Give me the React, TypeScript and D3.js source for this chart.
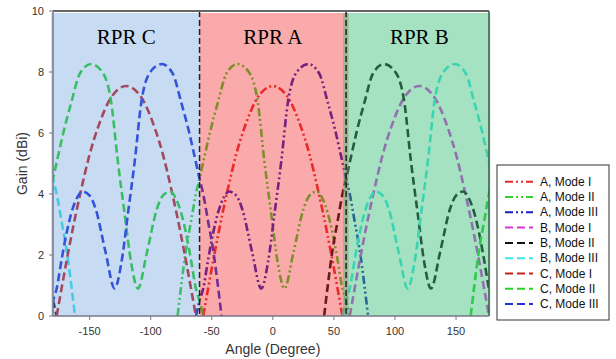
import React from 'react';
import * as d3 from 'd3';

type Pt = [number, number] | null;

// axis ticks
const xTicks = [-150, -100, -50, 0, 50, 100, 150];
const yTicks = [0, 2, 4, 6, 8, 10];

// RPR regions (angle bounds) and their labels
const regionNames = ['RPR C', 'RPR A', 'RPR B'];
const regionBounds: [number, number][] = [[-181.5, -60], [-60, 62], [57.5, 178]];
const regionCenters = [-120, 0, 120];
const dividers = [-60, 60];

// gain patterns, [angle, dBi]; null breaks a line (wrap at ±180)
const aModeI: Pt[] = [[-57, 0], [-53, 0.9], [-47.5, 2.1], [-41, 3.4], [-37, 4.13], [-30, 5.3], [-23, 6.2], [-12, 7.19], [0, 7.54], [12, 7.19], [23, 6.2], [30, 5.3], [37, 4.13], [41, 3.4], [47.5, 2.1], [53, 0.9], [57, 0]];
const aModeII: Pt[] = [[-78, 0], [-75, 1.0], [-71, 2.2], [-67, 3.1], [-63, 4.0], [-60, 4.5], [-55, 5.4], [-51, 6.1], [-45, 7.0], [-38, 7.95], [-29, 8.26], [-19, 7.96], [-12.3, 7.0], [-7, 5.1], [-1.5, 3.4], [4, 1.75], [9.5, 0.9], [17, 2.1], [25, 3.5], [30, 3.95], [36, 4.08], [40, 3.9], [45, 3.37], [49, 2.7], [53, 1.84], [57, 0.9], [60, 0.5], [63, 0]];
const aModeIII: Pt[] = [[-63, 0], [-60, 0.5], [-57, 0.9], [-53, 1.84], [-49, 2.7], [-45, 3.37], [-40, 3.9], [-36, 4.08], [-30, 3.95], [-25, 3.5], [-17, 2.1], [-9.5, 0.9], [-4, 1.75], [1.5, 3.4], [7, 5.1], [12.3, 7.0], [19, 7.96], [29, 8.26], [38, 7.95], [45, 7.0], [51, 6.1], [55, 5.4], [60, 4.5], [63, 4.0], [67, 3.1], [71, 2.2], [75, 1.0], [78, 0]];
const bModeI: Pt[] = [[63, 0], [67, 0.9], [72.5, 2.1], [79, 3.4], [83, 4.13], [90, 5.3], [97, 6.2], [108, 7.19], [120, 7.54], [132, 7.19], [143, 6.2], [150, 5.3], [157, 4.13], [161, 3.4], [167.5, 2.1], [173, 0.9], [177, 0]];
const bModeII: Pt[] = [[42, 0], [45, 1.0], [49, 2.2], [53, 3.1], [57, 4.0], [60, 4.5], [65, 5.4], [69, 6.1], [75, 7.0], [82, 7.95], [91, 8.26], [101, 7.96], [107.7, 7.0], [113, 5.1], [118.5, 3.4], [124, 1.75], [129.5, 0.9], [137, 2.1], [145, 3.5], [150, 3.95], [156, 4.08], [160, 3.9], [165, 3.37], [169, 2.7], [173, 1.84], [177, 0.9], [180, 0.5], null, [-183, 0.9], [-180, 0.5], [-177, 0]];
const bModeIII: Pt[] = [[57, 0], [60, 0.5], [63, 0.9], [67, 1.84], [71, 2.7], [75, 3.37], [80, 3.9], [84, 4.08], [90, 3.95], [95, 3.5], [103, 2.1], [110.5, 0.9], [116, 1.75], [121.5, 3.4], [127, 5.1], [132.3, 7.0], [139, 7.96], [149, 8.26], [158, 7.95], [165, 7.0], [171, 6.1], [175, 5.4], [180, 4.5], null, [-185, 5.4], [-180, 4.5], [-177, 4.0], [-173, 3.1], [-169, 2.2], [-165, 1.0], [-162, 0]];
const cModeI: Pt[] = [[-177, 0], [-173, 0.9], [-167.5, 2.1], [-161, 3.4], [-157, 4.13], [-150, 5.3], [-143, 6.2], [-132, 7.19], [-120, 7.54], [-108, 7.19], [-97, 6.2], [-90, 5.3], [-83, 4.13], [-79, 3.4], [-72.5, 2.1], [-67, 0.9], [-63, 0]];
const cModeII: Pt[] = [[162, 0], [165, 1.0], [169, 2.2], [173, 3.1], [177, 4.0], [180, 4.5], null, [-183, 4.0], [-180, 4.5], [-175, 5.4], [-171, 6.1], [-165, 7.0], [-158, 7.95], [-149, 8.26], [-139, 7.96], [-132.3, 7.0], [-127, 5.1], [-121.5, 3.4], [-116, 1.75], [-110.5, 0.9], [-103, 2.1], [-95, 3.5], [-90, 3.95], [-84, 4.08], [-80, 3.9], [-75, 3.37], [-71, 2.7], [-67, 1.84], [-63, 0.9], [-60, 0.5], [-57, 0]];
const cModeIII: Pt[] = [[-183, 0], [-180, 0.5], [-177, 0.9], [-173, 1.84], [-169, 2.7], [-165, 3.37], [-160, 3.9], [-156, 4.08], [-150, 3.95], [-145, 3.5], [-137, 2.1], [-129.5, 0.9], [-124, 1.75], [-118.5, 3.4], [-113, 5.1], [-107.7, 7.0], [-101, 7.96], [-91, 8.26], [-82, 7.95], [-75, 7.0], [-69, 6.1], [-65, 5.4], [-60, 4.5], [-57, 4.0], [-53, 3.1], [-49, 2.2], [-45, 1.0], [-42, 0]];

const seriesNames = ['A, Mode I', 'A, Mode II', 'A, Mode III', 'B, Mode I', 'B, Mode II', 'B, Mode III', 'C, Mode I', 'C, Mode II', 'C, Mode III'];
const seriesData = [aModeI, aModeII, aModeIII, bModeI, bModeII, bModeIII, cModeI, cModeII, cModeIII];

// styles
const seriesColors = ['#e62828', '#33d12a', '#1e1eb4', '#dc32dc', '#111111', '#3ce6e6', '#c82020', '#28d228', '#2030dc'];
const dashDotDot = '8,3,2,3,2,3';
const dashed = '8,4';
const seriesDash = [dashDotDot, dashDotDot, dashDotDot, dashed, dashed, dashed, dashed, dashed, dashed];
const regionColors = ['rgb(92,152,216)', 'rgb(242,42,42)', 'rgb(55,190,118)'];
const regionOpacity = [0.34, 0.4, 0.45];

const W = 616;
const H = 359;
const left = 53, right = 489, top = 11, bottom = 316;

export default function App() {
  const x = d3.scaleLinear().domain([-180, 177]).range([left, right]);
  const y = d3.scaleLinear().domain([0, 10]).range([bottom, top]);

  const line = d3.line<Pt>()
    .defined(d => d !== null)
    .x(d => x((d as [number, number])[0]))
    .y(d => y((d as [number, number])[1]))
    .curve(d3.curveMonotoneX);

  const legendX = 497, legendY = 165, legendW = 112, legendH = 155;

  return (
    <svg width={W} height={H} style={{ position: 'absolute', left: 0, top: 0, background: '#fff' }}
      fontFamily="'Liberation Sans', Arial, sans-serif">
      <defs>
        <clipPath id="plot">
          <rect x={left} y={top} width={right - left} height={bottom - top} />
        </clipPath>
      </defs>

      <g clipPath="url(#plot)">
        {seriesData.map((d, i) => (
          <path key={i} d={line(d) || ''} fill="none" stroke={seriesColors[i]}
            strokeWidth={2.6} strokeDasharray={seriesDash[i]} />
        ))}
      </g>

      {/* translucent region shading over the curves */}
      {regionBounds.map((b, i) => (
        <rect key={i} x={x(b[0])} y={top + 2} width={x(b[1]) - x(b[0])} height={bottom - top - 2}
          fill={regionColors[i]} fillOpacity={regionOpacity[i]} />
      ))}

      {dividers.map((v, i) => (
        <line key={i} x1={x(v)} x2={x(v)} y1={top} y2={bottom} stroke="#222" strokeWidth={1.5} strokeDasharray="6,3" />
      ))}

      {regionNames.map((n, i) => (
        <text key={n} x={x(regionCenters[i])} y={44} textAnchor="middle" fontFamily="'Liberation Serif', 'Times New Roman', serif"
          fontSize={21} fill="#000">{n}</text>
      ))}

      {/* frame */}
      <line x1={left} x2={right} y1={top} y2={top} stroke="#666" strokeWidth={2} />
      <line x1={right} x2={right} y1={top} y2={bottom} stroke="#3c5a48" strokeWidth={1.5} />

      {/* y axis */}
      <line x1={left} x2={left} y1={top} y2={bottom} stroke="#778" strokeWidth={1.5} />
      {yTicks.map(t => (
        <g key={t}>
          <line x1={left - 4} x2={left} y1={y(t)} y2={y(t)} stroke="#778" />
          <text x={left - 9} y={y(t) + 4} textAnchor="end" fontSize={11} fill="#333">{t}</text>
        </g>
      ))}
      <text transform={`translate(27,${(top + bottom) / 2}) rotate(-90)`} textAnchor="middle" fontSize={14} fill="#333">Gain (dBi)</text>

      {/* x axis */}
      <line x1={left} x2={right} y1={bottom} y2={bottom} stroke="#778" strokeWidth={1.5} />
      {xTicks.map(t => (
        <g key={t}>
          <line x1={x(t)} x2={x(t)} y1={bottom} y2={bottom + 4} stroke="#778" />
          <text x={x(t)} y={bottom + 19} textAnchor="middle" fontSize={11} fill="#333">{t}</text>
        </g>
      ))}
      <text x={x(0)} y={354} textAnchor="middle" fontSize={14} fill="#333">Angle (Degree)</text>

      {/* legend */}
      <rect x={legendX} y={legendY} width={legendW} height={legendH} fill="#fff" stroke="#333" strokeWidth={1} />
      {seriesNames.map((n, i) => {
        const ly = 181.7 + i * 15.3;
        return (
          <g key={n}>
            <line x1={505} x2={533} y1={ly} y2={ly} stroke={seriesColors[i]} strokeWidth={2} strokeDasharray={seriesDash[i]} />
            <text x={540} y={ly + 4} fontSize={12} fill="#111">{n}</text>
          </g>
        );
      })}
    </svg>
  );
}
